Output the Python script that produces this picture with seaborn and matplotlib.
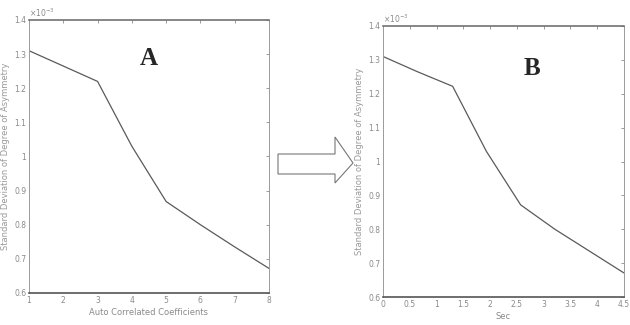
import numpy as np
import pandas as pd
import matplotlib
matplotlib.use("Agg")
import matplotlib.pyplot as plt
import seaborn as sns
from matplotlib.patches import Polygon
from matplotlib.ticker import FuncFormatter, MultipleLocator

# Panel A: std. deviation of degree of asymmetry vs auto correlated coefficients
coef_a = [1, 2, 3, 4, 5, 6, 7, 8]
std_a = [1.31e-3, 1.265e-3, 1.22e-3, 1.03e-3, 0.868e-3, 0.80e-3, 0.735e-3, 0.672e-3]

# Panel B: same measure vs time (sec)
sec_b = [0.0, 0.643, 1.30, 1.93, 2.57, 3.21, 3.86, 4.5]
std_b = [1.31e-3, 1.265e-3, 1.222e-3, 1.03e-3, 0.872e-3, 0.80e-3, 0.735e-3, 0.671e-3]

y_label = "Standard Deviation of Degree of Asymmetry"
grey = "#8a8a8a"

sns.set_style("white")
plt.rcParams["font.family"] = ["DejaVu Sans"]

fig = plt.figure(figsize=(6.3, 3.25), dpi=100)
ax_a = fig.add_axes([0.046, 0.0985, 0.381, 0.84])
ax_b = fig.add_axes([0.608, 0.086, 0.3825, 0.834])

df_a = pd.DataFrame({"x": coef_a, "y": std_a})
df_b = pd.DataFrame({"x": sec_b, "y": std_b})

sns.lineplot(data=df_a, x="x", y="y", ax=ax_a, color="#5a5a5a", linewidth=0.9)
sns.lineplot(data=df_b, x="x", y="y", ax=ax_b, color="#5a5a5a", linewidth=0.9)

ax_a.set_xlim(1, 8)
ax_a.xaxis.set_major_locator(MultipleLocator(1))
ax_b.set_xlim(0, 4.5)
ax_b.xaxis.set_major_locator(MultipleLocator(0.5))

fmt = FuncFormatter(lambda v, p: f"{v * 1e3:g}")
for ax, xl in [(ax_a, "Auto Correlated Coefficients"), (ax_b, "Sec")]:
    ax.set_ylim(0.6e-3, 1.4e-3)
    ax.yaxis.set_major_locator(MultipleLocator(0.1e-3))
    ax.yaxis.set_major_formatter(fmt)
    ax.xaxis.set_major_formatter(FuncFormatter(lambda v, p: f"{v:g}"))
    ax.tick_params(direction="in", top=True, right=True, length=2.5, width=0.6,
                   labelsize=5.5, colors=grey, pad=2)
    for s in ax.spines.values():
        s.set_color("#9a9a9a")
        s.set_linewidth(0.7)
    ax.spines["top"].set_color("#666666")
    ax.spines["bottom"].set_color("#555555")
    ax.spines["top"].set_linewidth(1.1)
    ax.spines["bottom"].set_linewidth(1.2)
    ax.set_xlabel(xl, fontsize=6, color=grey, labelpad=2)
    ax.set_ylabel(y_label, fontsize=6, color="#999999", labelpad=3)
    ax.text(0.0, 1.005, r"$\times10^{-3}$", transform=ax.transAxes,
            fontsize=5.5, color=grey, ha="left", va="bottom")

ax_a.text(0.5, 0.86, "A", transform=ax_a.transAxes, fontsize=18,
          fontweight="bold", family="Liberation Serif", ha="center", va="center")
ax_b.text(0.62, 0.845, "B", transform=ax_b.transAxes, fontsize=18,
          fontweight="bold", family="Liberation Serif", ha="center", va="center")

# hollow arrow between panels (pixel coords, y measured from top)
W, H = 630, 325
pts = [(278, 154), (335, 154), (335, 137), (353, 163), (335, 183), (335, 174), (278, 174)]
pts = [(x / W, 1 - y / H) for x, y in pts]
fig.patches.append(Polygon(pts, closed=True, transform=fig.transFigure,
                           facecolor="white", edgecolor="#777777", linewidth=0.8))

fig.savefig("out.png", dpi=100)
